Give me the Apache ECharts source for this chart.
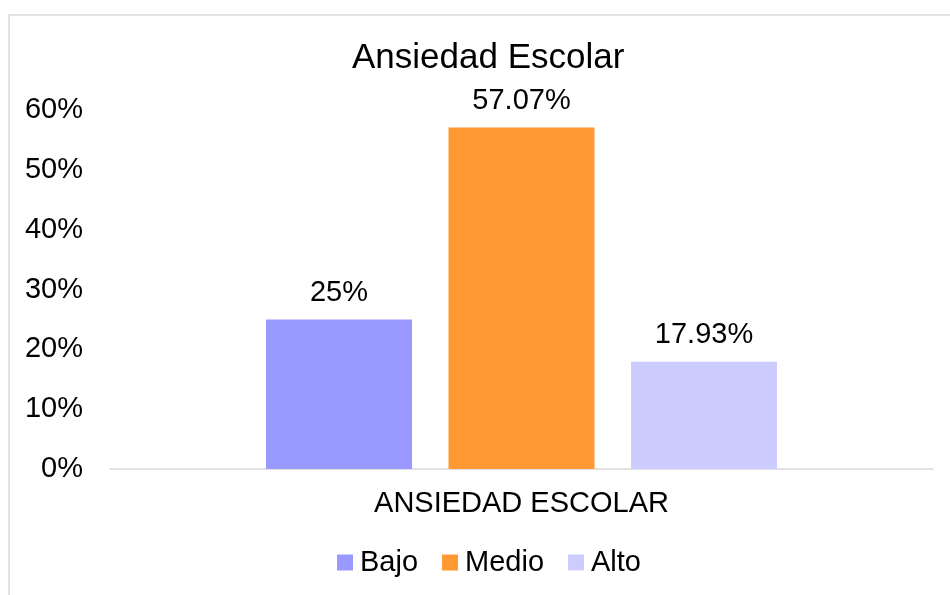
<!DOCTYPE html>
<html>
<head>
<meta charset="utf-8">
<script src="https://cdn.jsdelivr.net/npm/echarts@6/dist/echarts.min.js"></script>
<style>
  html, body { margin: 0; padding: 0; background: #fff; }
  #chart { width: 950px; height: 595px; }
</style>
</head>
<body>
<div id="chart"></div>
<script>
// datos
const categories = ['ANSIEDAD ESCOLAR'];
const seriesNames = ['Bajo', 'Medio', 'Alto'];
const seriesColors = ['#9999FF', '#FF9933', '#CCCCFF'];
const bajo = [25];
const medio = [57.07];
const alto = [17.93];
const yTicks = [0, 10, 20, 30, 40, 50, 60];

const FONT = '"Liberation Sans", Arial, sans-serif';
const valuesList = [bajo, medio, alto];

const chart = echarts.init(document.getElementById('chart'));

const option = {
    animation: false,
    textStyle: { fontFamily: FONT },
    title: {
        text: 'Ansiedad Escolar',
        left: 347,
        top: 36,
        textStyle: { fontFamily: FONT, fontSize: 35, fontWeight: 'normal', color: '#000' }
    },
    legend: {
        data: seriesNames,
        bottom: 13,
        left: 332,
        icon: 'rect',
        itemWidth: 16,
        itemHeight: 16,
        itemGap: 24,
        textStyle: { fontFamily: FONT, fontSize: 29, color: '#000', padding: [0, 0, 0, 2] }
    },
    grid: { left: 110, right: 17, top: 110, bottom: 126 },
    xAxis: {
        type: 'category',
        data: categories,
        axisLine: { lineStyle: { color: '#d9d9d9', width: 1.5 } },
        axisTick: { show: false },
        axisLabel: { color: '#000', fontSize: 29, fontFamily: FONT, margin: 20 }
    },
    yAxis: {
        type: 'value',
        min: yTicks[0],
        max: yTicks[yTicks.length - 1],
        interval: 10,
        axisLine: { show: false },
        axisTick: { show: false },
        splitLine: { show: false },
        axisLabel: { color: '#000', fontSize: 29, fontFamily: FONT, margin: 27, formatter: '{value}%' }
    },
    graphic: [{
        type: 'rect',
        shape: { x: 9, y: 15, width: 1000, height: 1000 },
        style: { fill: 'none', stroke: '#d9d9d9', lineWidth: 1.5 },
        silent: true
    }],
    series: seriesNames.map(function (name, i) {
        return {
            name: name,
            type: 'bar',
            data: valuesList[i],
            barWidth: 146,
            barGap: '25%',
            itemStyle: { color: seriesColors[i] },
            label: {
                show: true,
                position: 'top',
                distance: 12,
                formatter: '{c}%',
                color: '#000',
                fontSize: 29,
                fontFamily: FONT
            }
        };
    })
};

chart.setOption(option);
</script>
</body>
</html>
